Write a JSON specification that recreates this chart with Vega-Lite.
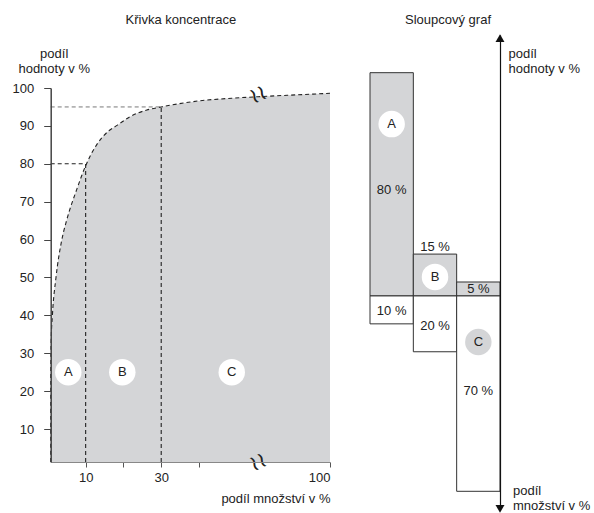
{
  "$schema": "https://vega.github.io/schema/vega-lite/v6.json",
  "width": 594,
  "height": 513,
  "autosize": {"type": "none"},
  "padding": 0,
  "background": "white",
  "config": {
    "font": "Liberation Sans",
    "view": {"stroke": null},
    "text": {"font": "Liberation Sans", "fontSize": 13, "color": "#222"}
  },
  "datasets": {
    "curve": [
      {"x": 0.75, "y": 1.3}, {"x": 0.76, "y": 25}, {"x": 0.85, "y": 33}, {"x": 1.2, "y": 40},
      {"x": 2.15, "y": 50}, {"x": 3.6, "y": 59.5}, {"x": 5.0, "y": 65.2}, {"x": 7.6, "y": 73.1},
      {"x": 10, "y": 79.5}, {"x": 12.9, "y": 85.0}, {"x": 16, "y": 88.6}, {"x": 18.4, "y": 90.2},
      {"x": 21.7, "y": 92.4}, {"x": 26.2, "y": 94.2}, {"x": 30, "y": 95.0}, {"x": 40, "y": 96.6},
      {"x": 55, "y": 97.3}, {"x": 67, "y": 97.7}, {"x": 85, "y": 98.2}, {"x": 100, "y": 98.6}
    ],
    "refsDark": [
      {"x": 0.75, "x2": 10, "y": 80, "y2": 80},
      {"x": 10, "x2": 10, "y": 1.3, "y2": 80},
      {"x": 30, "x2": 30, "y": 1.3, "y2": 95.0}
    ],
    "refsLight": [
      {"x": 0.75, "x2": 30, "y": 95.0, "y2": 95.0}
    ],
    "leftCircles": [
      {"x": 5.4, "y": 25, "letter": "A"},
      {"x": 19.7, "y": 25, "letter": "B"},
      {"x": 55, "y": 25, "letter": "C"}
    ],
    "breaks": [
      {"x": 67, "y": 98.3, "mark": "≀≀"},
      {"x": 67, "y": 1.3, "mark": "≀≀"}
    ],
    "leftTitle": [
      {"x": 35.2, "y": 118, "text": "Křivka koncentrace"}
    ],
    "bars": [
      {"cat": "A", "measure": "hodnota", "y": 80},
      {"cat": "B", "measure": "hodnota", "y": 15},
      {"cat": "C", "measure": "hodnota", "y": 5},
      {"cat": "A", "measure": "množství", "y": -10},
      {"cat": "B", "measure": "množství", "y": -20},
      {"cat": "C", "measure": "množství", "y": -70}
    ],
    "barLabels": [
      {"cat": "A", "y": 38, "label": "80 %"},
      {"cat": "B", "y": 17.6, "label": "15 %"},
      {"cat": "C", "y": 2.4, "label": "5 %"},
      {"cat": "A", "y": -5.4, "label": "10 %"},
      {"cat": "B", "y": -10.6, "label": "20 %"},
      {"cat": "C", "y": -34, "label": "70 %"}
    ],
    "rightCircles": [
      {"cat": "A", "y": 61.6, "letter": "A", "tone": "bílá"},
      {"cat": "B", "y": 6.8, "letter": "B", "tone": "bílá"},
      {"cat": "C", "y": -16.5, "letter": "C", "tone": "šedá"}
    ],
    "arrows": [
      {"cat": "C", "y": 92.4, "dir": "nahoru"},
      {"cat": "C", "y": -76.3, "dir": "dolů"}
    ],
    "rightBottom": [
      {"cat": "C", "y": -67.6, "text": "podíl\nmnožství v %"}
    ],
    "rightTitle": [
      {"cat": "B", "y": 99, "text": "Sloupcový graf"}
    ]
  },
  "layer": [
    {
      "layer": [
        {
          "data": {"name": "curve"},
          "mark": {"type": "area", "color": "#d4d5d7", "interpolate": "monotone"},
          "encoding": {
            "x": {
              "field": "x", "type": "quantitative",
              "scale": {"domain": [0.75, 40, 100], "range": [50.7, 199, 330], "zero": false, "nice": false},
              "axis": {
                "orient": "bottom", "offset": -51, "zindex": 1,
                "values": [10, 20, 30, 40, 100],
                "labelExpr": "datum.value == 20 || datum.value == 40 ? '' : datum.label",
                "labelFlush": 1, "labelPadding": 4, "labelFontSize": 13, "labelColor": "#222",
                "tickSize": 5, "tickColor": "#555", "domainColor": "#888", "domainWidth": 1, "grid": false,
                "title": "podíl množství v %", "titleFontSize": 13, "titleFontWeight": "normal", "titleColor": "#222",
                "titleAlign": "right", "titleBaseline": "middle", "titleX": 330, "titleY": 36, "titleAngle": 0
              }
            },
            "y": {
              "field": "y", "type": "quantitative",
              "scale": {"domain": [1.3, 100], "range": [462, 88], "zero": false, "nice": false},
              "axis": {
                "orient": "left", "offset": -50.7, "zindex": 1,
                "values": [10, 20, 30, 40, 50, 60, 70, 80, 90, 100],
                "tickSize": 7, "tickColor": "#444", "domainColor": "#444", "domainWidth": 1.5,
                "labelPadding": 10, "labelFontSize": 13, "labelColor": "#222", "grid": false,
                "title": ["podíl", "hodnoty v %"], "titleAngle": 0, "titleAlign": "center", "titleBaseline": "top",
                "titleX": 3, "titleY": 47, "titleFontSize": 13, "titleFontWeight": "normal", "titleColor": "#222",
                "titleLineHeight": 15
              }
            },
            "y2": {"datum": 1.3}
          }
        },
        {
          "data": {"name": "curve"},
          "mark": {"type": "line", "stroke": "#222", "strokeDash": [4, 3], "strokeWidth": 1.1, "interpolate": "monotone"},
          "encoding": {
            "x": {"field": "x", "type": "quantitative"},
            "y": {"field": "y", "type": "quantitative"}
          }
        },
        {
          "data": {"name": "refsDark"},
          "mark": {"type": "rule", "stroke": "#222", "strokeDash": [4, 3], "strokeWidth": 1.1},
          "encoding": {
            "x": {"field": "x", "type": "quantitative"},
            "x2": {"field": "x2"},
            "y": {"field": "y", "type": "quantitative"},
            "y2": {"field": "y2"}
          }
        },
        {
          "data": {"name": "refsLight"},
          "mark": {"type": "rule", "stroke": "#555", "strokeDash": [4, 3], "strokeWidth": 0.8},
          "encoding": {
            "x": {"field": "x", "type": "quantitative"},
            "x2": {"field": "x2"},
            "y": {"field": "y", "type": "quantitative"},
            "y2": {"field": "y2"}
          }
        },
        {
          "data": {"name": "leftCircles"},
          "mark": {"type": "point", "shape": "circle", "filled": true, "color": "white", "opacity": 1, "size": 700},
          "encoding": {
            "x": {"field": "x", "type": "quantitative"},
            "y": {"field": "y", "type": "quantitative"}
          }
        },
        {
          "data": {"name": "leftCircles"},
          "mark": {"type": "text", "fontSize": 13, "color": "#222", "baseline": "middle", "align": "center"},
          "encoding": {
            "x": {"field": "x", "type": "quantitative"},
            "y": {"field": "y", "type": "quantitative"},
            "text": {"field": "letter"}
          }
        },
        {
          "data": {"name": "breaks"},
          "mark": {"type": "text", "font": "DejaVu Sans", "fontSize": 22, "color": "#222", "angle": 335, "baseline": "middle", "align": "center"},
          "encoding": {
            "x": {"field": "x", "type": "quantitative"},
            "y": {"field": "y", "type": "quantitative"},
            "text": {"field": "mark"}
          }
        },
        {
          "data": {"name": "leftTitle"},
          "mark": {"type": "text", "fontSize": 13, "color": "#222", "baseline": "middle", "align": "center"},
          "encoding": {
            "x": {"field": "x", "type": "quantitative"},
            "y": {"field": "y", "type": "quantitative"},
            "text": {"field": "text"}
          }
        }
      ]
    },
    {
      "layer": [
        {
          "data": {"name": "bars"},
          "mark": {"type": "bar", "stroke": "#333", "strokeWidth": 1},
          "encoding": {
            "x": {
              "field": "cat", "type": "nominal",
              "scale": {"domain": ["A", "B", "C"], "range": [370, 500], "paddingInner": 0, "paddingOuter": 0},
              "axis": null
            },
            "y": {
              "field": "y", "type": "quantitative",
              "scale": {"domain": [-76.7, 93.5], "range": [510, 35], "zero": false, "nice": false},
              "axis": {
                "orient": "right", "offset": -94, "zindex": 1,
                "ticks": false, "labels": false, "grid": false,
                "domainColor": "#111", "domainWidth": 1.2,
                "title": ["podíl", "hodnoty v %"], "titleAngle": 0, "titleAlign": "left", "titleBaseline": "top",
                "titleX": 8, "titleY": 47, "titleFontSize": 13, "titleFontWeight": "normal", "titleColor": "#222",
                "titleLineHeight": 15
              }
            },
            "y2": {"datum": 0},
            "color": {
              "field": "measure", "type": "nominal",
              "scale": {"domain": ["hodnota", "množství"], "range": ["#d4d5d7", "#ffffff"]},
              "legend": null
            }
          }
        },
        {
          "data": {"name": "barLabels"},
          "mark": {"type": "text", "fontSize": 13, "color": "#222", "baseline": "middle", "align": "center"},
          "encoding": {
            "x": {"field": "cat", "type": "nominal", "axis": null},
            "y": {"field": "y", "type": "quantitative"},
            "text": {"field": "label"}
          }
        },
        {
          "data": {"name": "rightCircles"},
          "mark": {"type": "point", "shape": "circle", "filled": true, "opacity": 1, "size": 700, "strokeWidth": 0},
          "encoding": {
            "x": {"field": "cat", "type": "nominal", "axis": null},
            "y": {"field": "y", "type": "quantitative"},
            "fill": {
              "field": "tone", "type": "nominal",
              "scale": {"domain": ["bílá", "šedá"], "range": ["#ffffff", "#d4d5d7"]},
              "legend": null
            }
          }
        },
        {
          "data": {"name": "rightCircles"},
          "mark": {"type": "text", "fontSize": 13, "color": "#222", "baseline": "middle", "align": "center"},
          "encoding": {
            "x": {"field": "cat", "type": "nominal", "axis": null},
            "y": {"field": "y", "type": "quantitative"},
            "text": {"field": "letter"}
          }
        },
        {
          "data": {"name": "arrows"},
          "mark": {"type": "point", "filled": true, "opacity": 1, "size": 80, "color": "#111"},
          "encoding": {
            "x": {"field": "cat", "type": "nominal", "axis": null, "bandPosition": 1},
            "y": {"field": "y", "type": "quantitative"},
            "shape": {
              "field": "dir", "type": "nominal",
              "scale": {"domain": ["nahoru", "dolů"], "range": ["triangle-up", "triangle-down"]},
              "legend": null
            }
          }
        },
        {
          "data": {"name": "rightBottom"},
          "mark": {"type": "text", "fontSize": 13, "color": "#222", "baseline": "top", "align": "left", "dx": 13, "lineBreak": "\n", "lineHeight": 15},
          "encoding": {
            "x": {"field": "cat", "type": "nominal", "axis": null, "bandPosition": 1},
            "y": {"field": "y", "type": "quantitative"},
            "text": {"field": "text"}
          }
        },
        {
          "data": {"name": "rightTitle"},
          "mark": {"type": "text", "fontSize": 13, "color": "#222", "baseline": "middle", "align": "center"},
          "encoding": {
            "x": {"field": "cat", "type": "nominal", "axis": null, "bandPosition": 0.8},
            "y": {"field": "y", "type": "quantitative"},
            "text": {"field": "text"}
          }
        }
      ]
    }
  ],
  "resolve": {
    "scale": {"x": "independent", "y": "independent", "color": "independent"}
  }
}
